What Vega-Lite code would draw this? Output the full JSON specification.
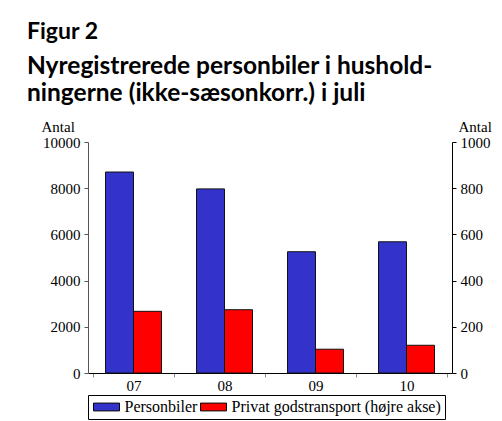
{
  "$schema": "https://vega.github.io/schema/vega-lite/v6.json",
  "width": 364,
  "height": 231,
  "autosize": {"type": "none"},
  "padding": {"left": 88, "top": 142, "right": 50, "bottom": 48},
  "background": "white",
  "title": {
    "text": "Figur 2",
    "subtitle": ["Nyregistrerede personbiler i hushold-", "ningerne (ikke-sæsonkorr.) i juli"],
    "anchor": "start",
    "frame": "group",
    "dx": -61,
    "offset": 14,
    "font": "Lato",
    "fontSize": 23,
    "fontWeight": "bold",
    "color": "black",
    "subtitleFont": "Lato",
    "subtitleFontSize": 24.5,
    "subtitleFontWeight": "bold",
    "subtitleColor": "black",
    "subtitlePadding": 11,
    "subtitleLineHeight": 27
  },
  "data": {
    "values": [
      {"aar": "07", "serie": "Personbiler", "antal": 8700},
      {"aar": "07", "serie": "Privat godstransport (højre akse)", "antal": 267},
      {"aar": "08", "serie": "Personbiler", "antal": 7970},
      {"aar": "08", "serie": "Privat godstransport (højre akse)", "antal": 274},
      {"aar": "09", "serie": "Personbiler", "antal": 5250},
      {"aar": "09", "serie": "Privat godstransport (højre akse)", "antal": 103},
      {"aar": "10", "serie": "Personbiler", "antal": 5680},
      {"aar": "10", "serie": "Privat godstransport (højre akse)", "antal": 120}
    ]
  },
  "encoding": {
    "x": {
      "field": "aar",
      "type": "nominal",
      "title": null,
      "axis": {
        "labelAngle": 0,
        "labelFont": "Liberation Serif",
        "labelFontSize": 15,
        "labelColor": "black",
        "tickBand": "extent",
        "tickSize": 4,
        "labelPadding": 1,
        "domainColor": "black",
        "tickColor": "#888",
        "grid": false
      }
    },
    "color": {
      "field": "serie",
      "type": "nominal",
      "scale": {
        "domain": ["Personbiler", "Privat godstransport (højre akse)"],
        "range": ["#3333CC", "#FF0000"]
      },
      "legend": {
        "title": null,
        "orient": "bottom",
        "direction": "horizontal",
        "offset": 2,
        "padding": 4,
        "strokeColor": "black",
        "fillColor": "white",
        "labelFont": "Liberation Serif",
        "labelFontSize": 16,
        "labelColor": "black",
        "labelLimit": 400,
        "labelOffset": 10,
        "symbolOffset": 6.5,
        "columnPadding": 0,
        "symbolType": "M-2,-0.6H2V0.6H-2Z",
        "symbolSize": 169,
        "symbolStrokeColor": "black",
        "symbolStrokeWidth": 1,
        "symbolOpacity": 1
      }
    }
  },
  "layer": [
    {
      "transform": [{"filter": "datum.serie === 'Personbiler'"}],
      "mark": {"type": "bar", "width": 28, "xOffset": -14, "stroke": "#111", "strokeWidth": 1},
      "encoding": {
        "y": {
          "field": "antal",
          "type": "quantitative",
          "scale": {"domain": [0, 10000], "nice": false},
          "axis": {
            "title": "Antal",
            "titleAngle": 0,
            "titleAlign": "left",
            "titleBaseline": "alphabetic",
            "titleX": -47,
            "titleY": -11,
            "titleFont": "Liberation Serif",
            "titleFontSize": 15,
            "titleFontWeight": "normal",
            "titleColor": "black",
            "values": [0, 2000, 4000, 6000, 8000, 10000],
            "format": "d",
            "labelFont": "Liberation Serif",
            "labelFontSize": 15,
            "labelColor": "black",
            "labelPadding": 4,
            "tickSize": 4,
            "domainColor": "#555",
            "tickColor": "#555",
            "grid": false
          }
        }
      }
    },
    {
      "transform": [{"filter": "datum.serie !== 'Personbiler'"}],
      "mark": {"type": "bar", "width": 28, "xOffset": 14, "stroke": "#111", "strokeWidth": 1},
      "encoding": {
        "y": {
          "field": "antal",
          "type": "quantitative",
          "scale": {"domain": [0, 1000], "nice": false},
          "axis": {
            "orient": "right",
            "title": "Antal",
            "titleAngle": 0,
            "titleAlign": "left",
            "titleBaseline": "alphabetic",
            "titleX": 6,
            "titleY": -11,
            "titleFont": "Liberation Serif",
            "titleFontSize": 15,
            "titleFontWeight": "normal",
            "titleColor": "black",
            "values": [0, 200, 400, 600, 800, 1000],
            "format": "d",
            "labelFont": "Liberation Serif",
            "labelFontSize": 15,
            "labelColor": "black",
            "labelPadding": 4,
            "tickSize": 4,
            "domainColor": "black",
            "tickColor": "black",
            "grid": false
          }
        }
      }
    }
  ],
  "resolve": {"scale": {"y": "independent"}},
  "config": {"view": {"stroke": null}}
}
